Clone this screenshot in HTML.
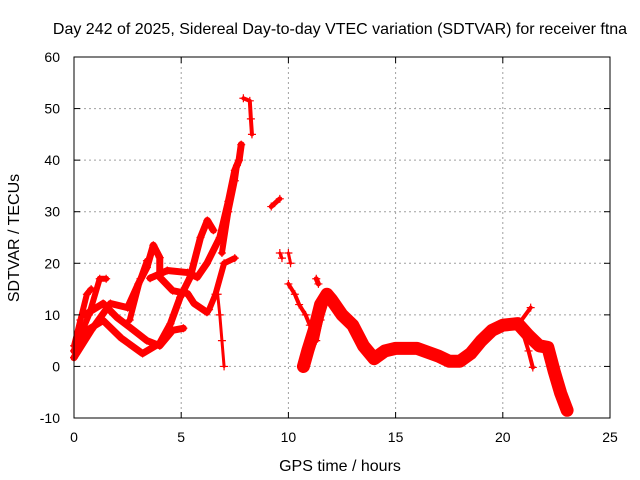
<!DOCTYPE html>
<html><head><meta charset="utf-8"><style>
body{margin:0;background:#fff}
svg{display:block;font-family:"Liberation Sans",sans-serif}
</style></head><body>
<svg id="chart" width="640" height="480">
<text x="340" y="34" font-size="16" text-anchor="middle">Day 242 of 2025, Sidereal Day-to-day VTEC variation (SDTVAR) for receiver ftna</text>
<text x="340" y="471" font-size="16" text-anchor="middle">GPS time / hours</text>
<text transform="translate(19,238) rotate(-90)" font-size="16" text-anchor="middle">SDTVAR / TECUs</text>
<g id="grid"></g><g id="marks"></g><g id="axes"></g>
</svg>
<script>
const xTicks=[0,5,10,15,20,25];
const yTicks=[-10,0,10,20,30,40,50,60];
const track1=[[0,4],[0.3,9],[0.6,14],[0.8,15]];
const track2=[[0.2,5],[0.7,10],[1.2,17],[1.5,17]];
const track3=[[0,3],[0.6,7],[1.36,8.9],[2.2,5.5],[3.2,2.5],[4.0,4.5],[4.5,8.3],[4.95,13.4],[5.42,17.3],[5.9,25],[6.22,28.3],[6.5,26.4]];
const track4=[[0,1.7],[0.8,7],[1.7,12.2],[2.5,11.4],[3.0,16],[3.4,19.2],[3.7,23.5],[4.0,21.1],[4.0,17.3],[4.6,14.7],[5.3,14.1],[5.6,12.2],[6.2,10.5]];
const track5=[[3.55,17.1],[4.35,18.6],[5.3,18.2],[5.75,17.3],[6.2,20],[6.8,25],[7.2,32],[7.5,38],[7.7,40],[7.8,43]];
const track6=[[0.5,10],[1.36,12.2],[2,9.5],[2.6,7.6],[3.4,5],[4,4],[4.6,7],[5.1,7.4]];
const track7=[[2.6,9],[3.1,17],[3.4,20.5]];
const track8=[[6.3,11],[6.6,14],[7.0,20],[7.5,21]];
const track9=[[6.7,14],[6.8,10],[6.9,5],[7.0,0]];
const track10=[[6.9,22],[7.2,30],[7.5,36],[7.6,39]];
const track11=[[7.9,52],[8.2,51.5],[8.25,48],[8.3,45]];
const track12=[[9.2,31],[9.6,32.5]];
const track13=[[9.6,22],[9.7,21]];
const track14=[[10.0,22],[10.1,20]];
const track15=[[10.0,16],[10.3,14],[10.5,12],[10.8,10],[11.0,8]];
const track16=[[11.3,17],[11.4,16]];
const track17=[[10.7,0],[10.9,3],[11.2,7],[11.5,12],[11.8,14],[12,13],[12.5,10],[13,8],[13.5,4],[14,1.5],[14.5,3],[15,3.5],[16,3.5],[17,2],[17.5,1],[18,1],[18.5,2.5],[19,5],[19.5,7],[20,8],[20.7,8.3],[21.2,6],[21.7,4],[22.1,3.7],[22.4,-1],[22.7,-5.2],[23.0,-8.5]];
const track18=[[11.3,5],[11.5,9],[11.8,13]];
const track19=[[20.7,8],[21.3,11.4]];
const track20=[[20.9,7],[21.2,3],[21.4,-0.2]];
const tracks=[track1,track2,track3,track4,track5,track6,track7,track8,track9,track10,track11,track12,track13,track14,track15,track16,track17,track18,track19,track20];
const widths=[6,6,7,7,7,7,6,6,3,6,4,5,3,3,4,5,13,5,4,4];
const X0=74,X1=610,Y0=418,Y1=57;
const xs=v=>X0+(v-0)/(25-0)*(X1-X0);
const ys=v=>Y0-(v+10)/(70)*(Y0-Y1);
const NS="http://www.w3.org/2000/svg";
function mk(t,a,p){const e=document.createElementNS(NS,t);for(const k in a)e.setAttribute(k,a[k]);p.appendChild(e);return e;}
const grid=document.getElementById('grid'),axes=document.getElementById('axes'),marks=document.getElementById('marks');
xTicks.forEach(t=>{const x=xs(t);
 if(t>0&&t<25){const g=mk('line',{x1:x,x2:x,y1:Y1,y2:Y0,stroke:'#a0a0a0','stroke-dasharray':'2,3'},grid);}
 mk('line',{x1:x,x2:x,y1:Y0,y2:Y0-6,stroke:'#000'},axes);mk('line',{x1:x,x2:x,y1:Y1,y2:Y1+6,stroke:'#000'},axes);
 const l=mk('text',{x:x,y:Y0+24,'font-size':14,'text-anchor':'middle'},axes);l.textContent=t;
 });
yTicks.forEach(t=>{const y=ys(t);
 if(t>-10&&t<60){const g=mk('line',{x1:X0,x2:X1,y1:y,y2:y,stroke:'#a0a0a0','stroke-dasharray':'2,3'},grid);}
 mk('line',{x1:X0,x2:X0+6,y1:y,y2:y,stroke:'#000'},axes);mk('line',{x1:X1,x2:X1-6,y1:y,y2:y,stroke:'#000'},axes);
 const l=mk('text',{x:X0-14,y:y+5,'font-size':14,'text-anchor':'end'},axes);l.textContent=t;
 });
const fr=mk('rect',{x:X0,y:Y1,width:X1-X0,height:Y0-Y1,fill:'none',stroke:'#000'},axes);

tracks.forEach((tr,i)=>{
 const pl=mk('polyline',{points:tr.map(p=>xs(p[0])+','+ys(p[1])).join(' '),fill:'none',stroke:'#ff0000','stroke-width':widths[i],'stroke-linejoin':'round','stroke-linecap':'round'},marks);
 
 
 tr.forEach(p=>{const x=xs(p[0]),y=ys(p[1]);
  const m=mk('path',{d:`M${x-4},${y}H${x+4}M${x},${y-4}V${y+4}`,stroke:'#ff0000','stroke-width':1.2},marks);
  
  });
});
</script>
</body></html>
